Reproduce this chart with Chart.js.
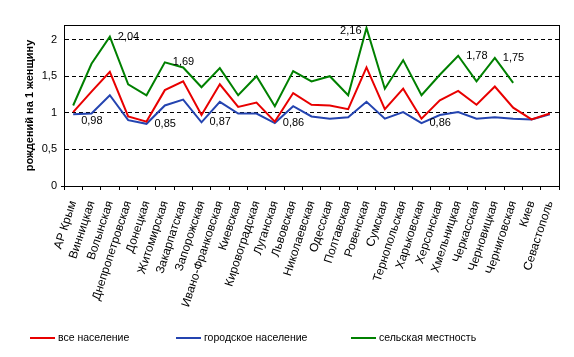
<!DOCTYPE html>
<html>
<head>
<meta charset="utf-8">
<script src="https://cdn.jsdelivr.net/npm/chart.js@4.4.1/dist/chart.umd.min.js"></script>
<style>
  html, body { margin: 0; padding: 0; background: #ffffff; }
  #wrap { width: 574px; height: 357px; position: relative; }
</style>
</head>
<body>
<div id="wrap"><canvas id="c" width="574" height="357"></canvas></div>
<script>
const categories = ['АР Крым','Винницкая','Волынская','Днепропетровская','Донецкая','Житомирская','Закарпатская','Запорожская','Ивано-Франковская','Киевская','Кировоградская','Луганская','Львовская','Николаевская','Одесская','Полтавская','Ровенская','Сумская','Тернопольская','Харьковская','Херсонская','Хмельницкая','Черкасская','Черновицкая','Черниговская','Киев','Севастополь'];
const seriesNames = ['все население','городское население','сельская местность'];
const allPopulation = [1.01,1.29,1.56,0.95,0.88,1.31,1.43,0.97,1.39,1.08,1.14,0.88,1.27,1.11,1.10,1.05,1.62,1.05,1.33,0.92,1.17,1.30,1.11,1.36,1.07,0.91,0.99];
const urbanPopulation = [0.98,0.99,1.24,0.90,0.85,1.10,1.18,0.87,1.15,0.99,0.99,0.86,1.09,0.95,0.92,0.94,1.15,0.92,1.01,0.86,0.97,1.01,0.92,0.94,0.92,0.91,0.98];
const ruralPopulation = [1.10,1.67,2.04,1.39,1.24,1.69,1.62,1.35,1.61,1.24,1.50,1.09,1.57,1.43,1.50,1.24,2.16,1.33,1.72,1.24,1.52,1.78,1.43,1.75,1.41,null,null];
const yTicks = [0,0.5,1,1.5,2];
const urbanLabelIdx = [0,4,7,11,19];
const ruralLabelIdx = [2,5,16,21,23];

const FONT = '"Liberation Sans", Arial, sans-serif';
const colors = ['#E80000','#2444B0','#008000'];
const fmt = v => String(v).replace('.', ',');

const plotBorder = {
  id: 'plotBorder',
  afterDatasetsDraw(chart) {
    const {ctx, chartArea: a} = chart;
    ctx.save();
    ctx.strokeStyle = '#000';
    ctx.lineWidth = 1;
    ctx.setLineDash([]);
    ctx.strokeRect(Math.round(a.left) + 0.5, Math.round(a.top) + 0.5, Math.round(a.right - a.left), Math.round(a.bottom - a.top));
    ctx.restore();
  }
};

const pointLabels = {
  id: 'pointLabels',
  afterDatasetsDraw(chart) {
    const {ctx} = chart;
    ctx.save();
    ctx.font = '11px ' + FONT;
    ctx.fillStyle = '#000';
    ctx.textBaseline = 'middle';
    const draw = (dsIndex, idxList, values) => {
      const meta = chart.getDatasetMeta(dsIndex);
      idxList.forEach(i => {
        const p = meta.data[i];
        if (!p) return;
        let x = p.x + 8, y = p.y, align = 'left';
        if (dsIndex === 1 && i === 0) y += 7;
        if (dsIndex === 2 && i === 16) { x = p.x - 5; y += 3.5; align = 'right'; }
        ctx.textAlign = align;
        ctx.fillText(fmt(values[i]), x, y);
      });
    };
    draw(1, urbanLabelIdx, urbanPopulation);
    draw(2, ruralLabelIdx, ruralPopulation);
    ctx.restore();
  }
};

const customLegend = {
  id: 'customLegend',
  afterDraw(chart) {
    const {ctx} = chart;
    const y = 338;
    const starts = [30, 176, 351];
    ctx.save();
    ctx.font = '10.5px ' + FONT;
    ctx.textBaseline = 'middle';
    ctx.textAlign = 'left';
    chart.data.datasets.forEach((ds, k) => {
      const x0 = starts[k];
      ctx.strokeStyle = ds.borderColor;
      ctx.lineWidth = 2;
      ctx.beginPath();
      ctx.moveTo(x0, y);
      ctx.lineTo(x0 + 25, y);
      ctx.stroke();
      ctx.fillStyle = '#000';
      ctx.fillText(ds.label, x0 + 28, y);
    });
    ctx.restore();
  }
};

new Chart(document.getElementById('c'), {
  type: 'line',
  data: {
    labels: categories,
    datasets: [
      { label: seriesNames[0], data: allPopulation, borderColor: colors[0], backgroundColor: colors[0] },
      { label: seriesNames[1], data: urbanPopulation, borderColor: colors[1], backgroundColor: colors[1] },
      { label: seriesNames[2], data: ruralPopulation, borderColor: colors[2], backgroundColor: colors[2] }
    ]
  },
  options: {
    responsive: false,
    animation: false,
    devicePixelRatio: 1,
    layout: { padding: { top: 25, right: 15, left: 0, bottom: 0 } },
    elements: {
      line: { borderWidth: 2, tension: 0, borderJoinStyle: 'miter' },
      point: { radius: 0, hoverRadius: 0 }
    },
    plugins: {
      legend: { display: false },
      tooltip: { enabled: false }
    },
    scales: {
      x: {
        type: 'category',
        offset: true,
        afterFit(s) { s.height = 171; },
        border: { display: true, color: '#000', width: 1 },
        grid: { display: true, offset: true, drawOnChartArea: false, drawTicks: true, tickLength: 4, color: '#000', tickColor: '#000' },
        ticks: { autoSkip: false, minRotation: 72, maxRotation: 72, padding: 9, color: '#000', font: { family: FONT, size: 12 } }
      },
      y: {
        min: 0,
        max: 2.2,
        afterFit(s) { s.width = 64; },
        afterBuildTicks(s) { s.ticks = yTicks.map(v => ({ value: v })); },
        border: { display: true, color: '#000', width: 1, dash: [4, 3] },
        grid: {
          color: ctx => ctx.tick && ctx.tick.value === 0 ? 'rgba(0,0,0,0)' : '#000',
          lineWidth: 1,
          drawTicks: true,
          tickLength: 3,
          tickBorderDash: [],
          tickColor: ctx => ctx.tick && ctx.tick.value === 0 ? '#000' : 'rgba(0,0,0,0)'
        },
        ticks: { padding: 4, color: '#000', font: { family: FONT, size: 11 }, callback: v => fmt(v) },
        title: { display: true, text: 'рождений на 1 женщину', color: '#000', font: { family: FONT, size: 11, weight: 'bold' }, padding: { top: 23, bottom: 0 } }
      }
    }
  },
  plugins: [plotBorder, pointLabels, customLegend]
});
</script>
</body>
</html>
